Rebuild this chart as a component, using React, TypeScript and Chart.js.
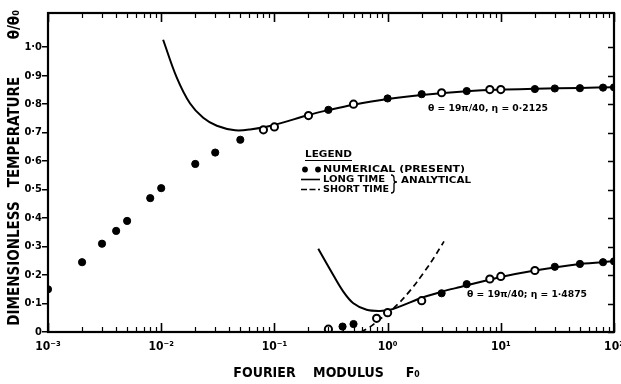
import React, { useEffect, useRef } from "react";
import { Chart, registerables } from "chart.js";

Chart.register(...registerables);

const FONT_FAMILY = "'DejaVu Sans Condensed', 'DejaVu Sans', 'Liberation Sans', sans-serif";

// ---- axis definitions ----
const xMin = 0.001;
const xMax = 100;
const yMin = 0;
const yMax = 1.12;
const xMajorValues = [0.001, 0.01, 0.1, 1, 10, 100];
const xMajorLabels = ["10⁻³", "10⁻²", "10⁻¹", "10⁰", "10¹", "10²"];
const yTickValues = [0, 0.1, 0.2, 0.3, 0.4, 0.5, 0.6, 0.7, 0.8, 0.9, 1.0];
const yTickLabels = ["0", "0·1", "0·2", "0·3", "0·4", "0·5", "0·6", "0·7", "0·8", "0·9", "1·0"];

// ---- numerical (present) results, eta = 0.2125 ----
const upperX = [0.001, 0.002, 0.003, 0.004, 0.005, 0.008, 0.01, 0.02, 0.03, 0.05, 0.08, 0.1, 0.2, 0.3, 0.5, 1, 2, 3, 5, 8, 10, 20, 30, 50, 80, 100];
const upperY = [0.15, 0.245, 0.31, 0.355, 0.39, 0.47, 0.505, 0.59, 0.63, 0.675, 0.71, 0.72, 0.76, 0.78, 0.8, 0.82, 0.835, 0.84, 0.846, 0.851, 0.851, 0.853, 0.855, 0.856, 0.858, 0.859];
const upperOpen = [false, false, false, false, false, false, false, false, false, false, true, true, true, false, true, false, false, true, false, true, true, false, false, false, false, false];

// ---- numerical (present) results, eta = 1.4875 ----
const lowerX = [0.3, 0.4, 0.5, 0.8, 1, 2, 3, 5, 8, 10, 20, 30, 50, 80, 100];
const lowerY = [0.01, 0.019, 0.028, 0.048, 0.068, 0.11, 0.136, 0.168, 0.186, 0.195, 0.216, 0.229, 0.239, 0.245, 0.248];
const lowerOpen = [true, false, false, true, true, true, false, false, true, true, true, false, false, false, false];

// ---- analytical long time solutions ----
const upperLongX = [0.0104, 0.0137, 0.018, 0.0235, 0.031, 0.045, 0.061, 0.1, 0.2, 0.3, 0.5, 1, 2, 5, 10, 20, 50, 100];
const upperLongY = [1.026, 0.894, 0.802, 0.752, 0.724, 0.708, 0.711, 0.727, 0.762, 0.779, 0.798, 0.818, 0.832, 0.845, 0.851, 0.854, 0.857, 0.859];
const lowerLongX = [0.244, 0.331, 0.406, 0.498, 0.653, 0.857, 1.05, 1.29, 2.07, 3.1, 4.4, 10, 20, 50, 100];
const lowerLongY = [0.292, 0.2, 0.142, 0.101, 0.078, 0.074, 0.078, 0.09, 0.122, 0.143, 0.158, 0.193, 0.216, 0.239, 0.248];

// ---- analytical short time solution ----
const lowerShortX = [0.58, 0.7, 0.8, 1.05, 1.38, 1.81, 2.37, 2.8, 3.15];
const lowerShortY = [0.0, 0.018, 0.036, 0.072, 0.118, 0.175, 0.24, 0.285, 0.318];

// ---- texts ----
const upperNote = "θ = 19π/40, η = 0·2125";
const lowerNote = "θ = 19π/40; η = 1·4875";
const legendTitle = "LEGEND";
const legendNumerical = "NUMERICAL (PRESENT)";
const legendLong = "LONG TIME";
const legendShort = "SHORT TIME";
const legendAnalytical = "ANALYTICAL";
const xTitle = "FOURIER    MODULUS     F₀  ";
const yTitle = "  DIMENSIONLESS   TEMPERATURE        θ/θ₀";

const toPts = (xs: number[], ys: number[]) => xs.map((x, i) => ({ x, y: ys[i] }));

function fitText(ctx: CanvasRenderingContext2D, text: string, x: number, y: number, size: number, width: number) {
  ctx.font = `bold ${size}px ${FONT_FAMILY}`;
  ctx.textBaseline = "middle";
  ctx.textAlign = "left";
  const w = ctx.measureText(text).width;
  ctx.save();
  ctx.translate(x, y);
  ctx.scale(width / w, 1);
  ctx.fillText(text, 0, 0);
  ctx.restore();
}

const decorPlugin = {
  id: "decor",
  afterDraw(chart: any) {
    const { ctx, chartArea: a, scales } = chart;
    const xs = scales.x;
    const ys = scales.y;
    ctx.save();
    ctx.strokeStyle = "#000";
    ctx.fillStyle = "#000";
    // inward x ticks (top and bottom)
    for (let i = 0; i < xMajorValues.length; i++) {
      for (let m = 1; m <= 9; m++) {
        const v = xMajorValues[i] * m;
        if (v > xMax * 1.0001) break;
        const px = Math.round(xs.getPixelForValue(v)) + 0.5;
        const len = m === 1 ? 9 : 5;
        ctx.lineWidth = m === 1 ? 1.6 : 1.2;
        ctx.beginPath();
        ctx.moveTo(px, a.bottom);
        ctx.lineTo(px, a.bottom - len);
        ctx.moveTo(px, a.top);
        ctx.lineTo(px, a.top + len);
        ctx.stroke();
      }
    }
    // inward right y ticks
    ctx.lineWidth = 1.4;
    ctx.beginPath();
    for (const v of yTickValues) {
      const py = Math.round(ys.getPixelForValue(v)) + 0.5;
      ctx.moveTo(a.right, py);
      ctx.lineTo(a.right - 6, py);
    }
    ctx.stroke();
    // frame
    ctx.lineWidth = 2.2;
    ctx.strokeRect(a.left, a.top, a.right - a.left, a.bottom - a.top);

    // annotations
    fitText(ctx, upperNote, 428, 108.5, 9, 120);
    fitText(ctx, lowerNote, 467, 295, 9, 120);

    // legend
    fitText(ctx, legendTitle, 305, 155, 9, 47);
    ctx.lineWidth = 1;
    ctx.beginPath();
    ctx.moveTo(305, 160.5);
    ctx.lineTo(352, 160.5);
    ctx.stroke();

    ctx.beginPath();
    ctx.arc(305, 169.5, 2.9, 0, Math.PI * 2);
    ctx.fill();
    ctx.beginPath();
    ctx.arc(318, 169.5, 2.9, 0, Math.PI * 2);
    ctx.fill();
    fitText(ctx, legendNumerical, 323, 169.5, 9, 142);

    ctx.lineWidth = 1.6;
    ctx.beginPath();
    ctx.moveTo(301, 179.5);
    ctx.lineTo(320, 179.5);
    ctx.stroke();
    fitText(ctx, legendLong, 323, 179.5, 9, 62);

    ctx.setLineDash([6, 2.5]);
    ctx.beginPath();
    ctx.moveTo(301, 189.5);
    ctx.lineTo(320, 189.5);
    ctx.stroke();
    ctx.setLineDash([]);
    fitText(ctx, legendShort, 323, 189.5, 9, 66);

    // brace
    const bx = 391;
    ctx.lineWidth = 1.3;
    ctx.beginPath();
    ctx.moveTo(bx, 175);
    ctx.quadraticCurveTo(bx + 3, 175, bx + 3, 178);
    ctx.lineTo(bx + 3, 180);
    ctx.quadraticCurveTo(bx + 3, 182, bx + 6, 182);
    ctx.quadraticCurveTo(bx + 3, 182, bx + 3, 184);
    ctx.lineTo(bx + 3, 190);
    ctx.quadraticCurveTo(bx + 3, 193, bx, 193);
    ctx.stroke();
    fitText(ctx, legendAnalytical, 401, 180.5, 9, 70);

    ctx.restore();
  },
};

export default function App() {
  const canvasRef = useRef<HTMLCanvasElement | null>(null);

  useEffect(() => {
    if (!canvasRef.current) return;
    const tickFont = (size: number) => ({ family: FONT_FAMILY, size, weight: "bold" as const });
    const chart = new Chart(canvasRef.current, {
      type: "scatter",
      data: {
        datasets: [
          {
            label: "Numerical η = 0.2125",
            data: toPts(upperX, upperY),
            showLine: false,
            pointRadius: 3.6,
            pointBackgroundColor: upperOpen.map((o) => (o ? "#fff" : "#000")),
            pointBorderColor: "#000",
            pointBorderWidth: upperOpen.map((o) => (o ? 2 : 1)),
            order: 0,
          },
          {
            label: "Numerical η = 1.4875",
            data: toPts(lowerX, lowerY),
            showLine: false,
            pointRadius: 3.6,
            pointBackgroundColor: lowerOpen.map((o) => (o ? "#fff" : "#000")),
            pointBorderColor: "#000",
            pointBorderWidth: lowerOpen.map((o) => (o ? 2 : 1)),
            order: 0,
          },
          {
            type: "line",
            label: "Long time η = 0.2125",
            data: toPts(upperLongX, upperLongY),
            borderColor: "#000",
            borderWidth: 2,
            pointRadius: 0,
            fill: false,
            tension: 0.35,
            order: 1,
          },
          {
            type: "line",
            label: "Long time η = 1.4875",
            data: toPts(lowerLongX, lowerLongY),
            borderColor: "#000",
            borderWidth: 2,
            pointRadius: 0,
            fill: false,
            tension: 0.35,
            order: 1,
          },
          {
            type: "line",
            label: "Short time η = 1.4875",
            data: toPts(lowerShortX, lowerShortY),
            borderColor: "#000",
            borderWidth: 1.7,
            borderDash: [6, 4],
            pointRadius: 0,
            fill: false,
            tension: 0.3,
            order: 1,
          },
        ] as any,
      },
      options: {
        animation: false,
        responsive: true,
        maintainAspectRatio: false,
        layout: { padding: { top: 13, right: 7, left: 0, bottom: 0 } },
        plugins: {
          legend: { display: false },
          tooltip: { enabled: false },
        },
        scales: {
          x: {
            type: "logarithmic",
            min: xMin,
            max: xMax,
            grid: { display: false, drawTicks: false },
            border: { display: false },
            afterBuildTicks: (scale: any) => {
              scale.ticks = xMajorValues.map((v) => ({ value: v }));
            },
            afterFit: (scale: any) => {
              scale.height = 52;
              scale.paddingLeft = 0;
              scale.paddingRight = 0;
            },
            ticks: {
              autoSkip: false,
              maxRotation: 0,
              minRotation: 0,
              padding: 8,
              color: "#000",
              font: tickFont(12),
              callback: (_v: any, i: number) => xMajorLabels[i],
            },
            title: {
              display: true,
              text: xTitle,
              color: "#000",
              font: tickFont(14),
              padding: { top: 0, bottom: 2 },
            },
          },
          y: {
            type: "linear",
            min: yMin,
            max: yMax,
            grid: { drawOnChartArea: false, drawTicks: true, tickLength: 6, color: "#000", lineWidth: 1.5 },
            border: { display: false },
            afterBuildTicks: (scale: any) => {
              scale.ticks = yTickValues.map((v) => ({ value: v }));
            },
            afterFit: (scale: any) => {
              scale.width = 48;
              scale.paddingTop = 0;
              scale.paddingBottom = 0;
            },
            ticks: {
              autoSkip: false,
              padding: 0,
              color: "#000",
              font: tickFont(11),
              callback: (_v: any, i: number) => yTickLabels[i],
            },
            title: {
              display: true,
              text: yTitle,
              color: "#000",
              font: tickFont(15),
              padding: { top: 6, bottom: 0 },
            },
          },
        },
      },
      plugins: [decorPlugin],
    });
    return () => chart.destroy();
  }, []);

  return (
    <div style={{ position: "fixed", left: 0, top: 0, width: 621, height: 384, background: "#fff" }}>
      <canvas ref={canvasRef} />
    </div>
  );
}
